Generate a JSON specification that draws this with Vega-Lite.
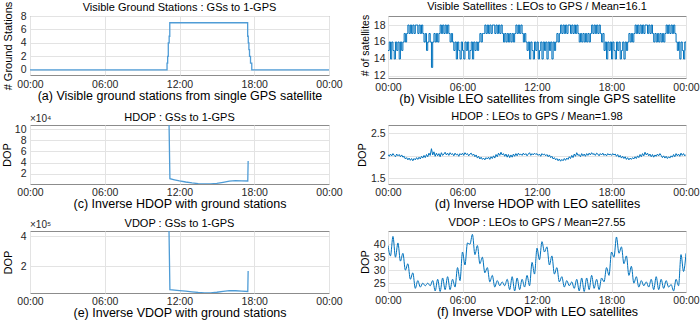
{
"$schema": "https://vega.github.io/schema/vega-lite/v6.json",
"padding": {"left": 0, "top": 0, "right": 0, "bottom": 0},
"autosize": {"type": "pad"},
"background": "white",
"config": {
  "font": "Liberation Sans",
  "view": {"stroke": "#8c8c8c", "strokeWidth": 1},
  "axis": {"grid": true, "gridColor": "#e3e3e3", "domain": false, "ticks": false, "labelOverlap": false, "labelFontSize": 10.5, "labelColor": "#262626", "titleFontWeight": "normal", "titleColor": "#000000", "labelFont": "Liberation Sans", "titleFont": "Liberation Sans"},
  "axisX": {"titleFontSize": 12.5, "titlePadding": 0, "labelPadding": 4, "labelFlush": false},
  "axisY": {"titleFontSize": 11, "labelPadding": 4},
  "title": {"fontSize": 11, "fontWeight": "normal", "offset": 3, "color": "#000000", "font": "Liberation Sans"}
},
"datasets": {
"a": [{"t":0,"v":0},{"t":10.95,"v":0},{"t":11.0,"v":1},{"t":11.05,"v":2},{"t":11.1,"v":4},{"t":11.17,"v":5},{"t":11.22,"v":7},{"t":17.42,"v":7},{"t":17.47,"v":5},{"t":17.52,"v":4},{"t":17.57,"v":3},{"t":17.62,"v":2},{"t":17.7,"v":1},{"t":17.8,"v":0},{"t":24,"v":0}],
"b": [
{"t":0,"v":15},{"t":0.1,"v":16},{"t":0.2,"v":14},{"t":0.3,"v":16},{"t":0.4,"v":15},{"t":0.5,"v":14},{"t":0.6,"v":16},{"t":0.7,"v":15},{"t":0.8,"v":16},{"t":0.9,"v":14},
{"t":1,"v":16},{"t":1.1,"v":15},{"t":1.2,"v":16},{"t":1.3,"v":17},{"t":1.4,"v":16},{"t":1.5,"v":17},{"t":1.6,"v":18},{"t":1.7,"v":17},{"t":1.8,"v":18},{"t":1.9,"v":17},
{"t":2,"v":18},{"t":2.1,"v":17},{"t":2.2,"v":18},{"t":2.3,"v":18},{"t":2.4,"v":17},{"t":2.5,"v":18},{"t":2.6,"v":17},{"t":2.7,"v":18},{"t":2.8,"v":17},{"t":2.9,"v":16},
{"t":3,"v":17},{"t":3.1,"v":15},{"t":3.2,"v":16},{"t":3.3,"v":17},{"t":3.4,"v":16},{"t":3.5,"v":13},{"t":3.6,"v":16},{"t":3.7,"v":17},{"t":3.8,"v":16},{"t":3.9,"v":17},
{"t":4,"v":16},{"t":4.1,"v":17},{"t":4.2,"v":18},{"t":4.3,"v":17},{"t":4.4,"v":18},{"t":4.5,"v":17},{"t":4.6,"v":18},{"t":4.7,"v":17},{"t":4.8,"v":18},{"t":4.9,"v":17},
{"t":5,"v":16},{"t":5.1,"v":17},{"t":5.2,"v":16},{"t":5.3,"v":15},{"t":5.4,"v":16},{"t":5.5,"v":14},{"t":5.6,"v":16},{"t":5.7,"v":15},{"t":5.8,"v":14},{"t":5.9,"v":16},
{"t":6,"v":15},{"t":6.1,"v":14},{"t":6.2,"v":16},{"t":6.3,"v":15},{"t":6.4,"v":16},{"t":6.5,"v":14},{"t":6.6,"v":15},{"t":6.7,"v":16},{"t":6.8,"v":14},{"t":6.9,"v":16},
{"t":7,"v":15},{"t":7.1,"v":16},{"t":7.2,"v":15},{"t":7.3,"v":16},{"t":7.4,"v":17},{"t":7.5,"v":16},{"t":7.6,"v":17},{"t":7.7,"v":17},{"t":7.8,"v":18},{"t":7.9,"v":17},
{"t":8,"v":18},{"t":8.1,"v":17},{"t":8.2,"v":18},{"t":8.3,"v":17},{"t":8.4,"v":18},{"t":8.5,"v":18},{"t":8.6,"v":17},{"t":8.7,"v":18},{"t":8.8,"v":17},{"t":8.9,"v":18},
{"t":9,"v":17},{"t":9.1,"v":18},{"t":9.2,"v":17},{"t":9.3,"v":16},{"t":9.4,"v":17},{"t":9.5,"v":16},{"t":9.6,"v":17},{"t":9.7,"v":16},{"t":9.8,"v":17},{"t":9.9,"v":16},
{"t":10,"v":17},{"t":10.1,"v":16},{"t":10.2,"v":17},{"t":10.3,"v":18},{"t":10.4,"v":17},{"t":10.5,"v":18},{"t":10.6,"v":17},{"t":10.7,"v":18},{"t":10.8,"v":17},{"t":10.9,"v":16},
{"t":11,"v":17},{"t":11.1,"v":16},{"t":11.2,"v":15},{"t":11.3,"v":16},{"t":11.4,"v":14},{"t":11.5,"v":16},{"t":11.6,"v":15},{"t":11.7,"v":14},{"t":11.8,"v":16},{"t":11.9,"v":15},
{"t":12,"v":16},{"t":12.1,"v":14},{"t":12.2,"v":15},{"t":12.3,"v":16},{"t":12.4,"v":14},{"t":12.5,"v":16},{"t":12.6,"v":15},{"t":12.7,"v":16},{"t":12.8,"v":14},{"t":12.9,"v":16},
{"t":13,"v":15},{"t":13.1,"v":16},{"t":13.2,"v":14},{"t":13.3,"v":16},{"t":13.4,"v":15},{"t":13.5,"v":16},{"t":13.6,"v":17},{"t":13.7,"v":16},{"t":13.8,"v":17},{"t":13.9,"v":18},
{"t":14,"v":17},{"t":14.1,"v":18},{"t":14.2,"v":17},{"t":14.3,"v":18},{"t":14.4,"v":17},{"t":14.5,"v":18},{"t":14.6,"v":18},{"t":14.7,"v":17},{"t":14.8,"v":18},{"t":14.9,"v":17},
{"t":15,"v":18},{"t":15.1,"v":17},{"t":15.2,"v":18},{"t":15.3,"v":17},{"t":15.4,"v":16},{"t":15.5,"v":17},{"t":15.6,"v":16},{"t":15.7,"v":17},{"t":15.8,"v":16},{"t":15.9,"v":17},
{"t":16,"v":16},{"t":16.1,"v":17},{"t":16.2,"v":16},{"t":16.3,"v":17},{"t":16.4,"v":18},{"t":16.5,"v":17},{"t":16.6,"v":18},{"t":16.7,"v":17},{"t":16.8,"v":18},{"t":16.9,"v":17},
{"t":17,"v":18},{"t":17.1,"v":17},{"t":17.2,"v":16},{"t":17.3,"v":17},{"t":17.4,"v":15},{"t":17.5,"v":16},{"t":17.6,"v":14},{"t":17.7,"v":16},{"t":17.8,"v":15},{"t":17.9,"v":16},
{"t":18,"v":14},{"t":18.1,"v":16},{"t":18.2,"v":15},{"t":18.3,"v":14},{"t":18.4,"v":16},{"t":18.5,"v":15},{"t":18.6,"v":16},{"t":18.7,"v":14},{"t":18.8,"v":15},{"t":18.9,"v":16},
{"t":19,"v":14},{"t":19.1,"v":16},{"t":19.2,"v":15},{"t":19.3,"v":16},{"t":19.4,"v":17},{"t":19.5,"v":16},{"t":19.6,"v":17},{"t":19.7,"v":16},{"t":19.8,"v":17},{"t":19.9,"v":18},
{"t":20,"v":17},{"t":20.1,"v":18},{"t":20.2,"v":17},{"t":20.3,"v":18},{"t":20.4,"v":17},{"t":20.5,"v":18},{"t":20.6,"v":17},{"t":20.7,"v":18},{"t":20.8,"v":18},{"t":20.9,"v":17},
{"t":21,"v":18},{"t":21.1,"v":17},{"t":21.2,"v":18},{"t":21.3,"v":17},{"t":21.4,"v":16},{"t":21.5,"v":17},{"t":21.6,"v":16},{"t":21.7,"v":17},{"t":21.8,"v":16},{"t":21.9,"v":17},
{"t":22,"v":16},{"t":22.1,"v":17},{"t":22.2,"v":16},{"t":22.3,"v":17},{"t":22.4,"v":18},{"t":22.5,"v":17},{"t":22.6,"v":18},{"t":22.7,"v":17},{"t":22.8,"v":18},{"t":22.9,"v":17},
{"t":23,"v":18},{"t":23.1,"v":17},{"t":23.2,"v":16},{"t":23.3,"v":15},{"t":23.4,"v":16},{"t":23.5,"v":14},{"t":23.6,"v":16},{"t":23.7,"v":15},{"t":23.8,"v":14},{"t":23.9,"v":16},
{"t":24,"v":15}],
"c": [{"t":11.15,"v":125000},{"t":11.23,"v":11000},{"t":11.6,"v":9000},{"t":12.0,"v":7000},{"t":12.5,"v":5000},{"t":13.0,"v":3300},{"t":13.5,"v":2100},{"t":14.0,"v":1500},{"t":14.5,"v":1600},{"t":15.0,"v":2600},{"t":15.5,"v":4500},{"t":16.0,"v":6500},{"t":16.5,"v":7400},{"t":17.0,"v":7200},{"t":17.48,"v":6800},{"t":17.51,"v":43000}],
"d": [
{"t":0,"v":2.03},{"t":0.1,"v":1.99},{"t":0.2,"v":2.04},{"t":0.3,"v":2.00},{"t":0.4,"v":2.05},{"t":0.5,"v":2.01},{"t":0.6,"v":1.98},{"t":0.7,"v":2.04},{"t":0.8,"v":2.00},{"t":0.9,"v":2.03},
{"t":1,"v":1.98},{"t":1.1,"v":2.02},{"t":1.2,"v":1.97},{"t":1.3,"v":1.99},{"t":1.4,"v":1.93},{"t":1.5,"v":1.96},{"t":1.6,"v":1.91},{"t":1.7,"v":1.95},{"t":1.8,"v":1.90},{"t":1.9,"v":1.94},
{"t":2,"v":1.89},{"t":2.1,"v":1.94},{"t":2.2,"v":1.91},{"t":2.3,"v":1.96},{"t":2.4,"v":1.92},{"t":2.5,"v":1.97},{"t":2.6,"v":1.93},{"t":2.7,"v":1.99},{"t":2.8,"v":1.95},{"t":2.9,"v":2.01},
{"t":3,"v":1.96},{"t":3.1,"v":2.03},{"t":3.2,"v":1.98},{"t":3.3,"v":2.06},{"t":3.4,"v":2.01},{"t":3.5,"v":2.16},{"t":3.6,"v":2.02},{"t":3.7,"v":2.09},{"t":3.8,"v":1.99},{"t":3.9,"v":2.06},
{"t":4,"v":2.00},{"t":4.1,"v":2.05},{"t":4.2,"v":1.98},{"t":4.3,"v":2.07},{"t":4.4,"v":2.01},{"t":4.5,"v":2.04},{"t":4.6,"v":2.08},{"t":4.7,"v":2.02},{"t":4.8,"v":2.06},{"t":4.9,"v":2.01},
{"t":5,"v":2.07},{"t":5.1,"v":2.03},{"t":5.2,"v":2.05},{"t":5.3,"v":2.00},{"t":5.4,"v":2.06},{"t":5.5,"v":2.02},{"t":5.6,"v":2.04},{"t":5.7,"v":1.99},{"t":5.8,"v":2.05},{"t":5.9,"v":2.02},
{"t":6,"v":2.06},{"t":6.1,"v":2.01},{"t":6.2,"v":2.07},{"t":6.3,"v":2.03},{"t":6.4,"v":2.05},{"t":6.5,"v":2.00},{"t":6.6,"v":2.04},{"t":6.7,"v":2.06},{"t":6.8,"v":2.01},{"t":6.9,"v":2.04},
{"t":7,"v":1.98},{"t":7.1,"v":2.02},{"t":7.2,"v":1.95},{"t":7.3,"v":1.99},{"t":7.4,"v":1.93},{"t":7.5,"v":1.97},{"t":7.6,"v":1.92},{"t":7.7,"v":1.95},{"t":7.8,"v":1.91},{"t":7.9,"v":1.96},
{"t":8,"v":1.93},{"t":8.1,"v":1.97},{"t":8.2,"v":1.92},{"t":8.3,"v":1.98},{"t":8.4,"v":1.94},{"t":8.5,"v":2.00},{"t":8.6,"v":1.95},{"t":8.7,"v":2.03},{"t":8.8,"v":1.98},{"t":8.9,"v":2.06},
{"t":9,"v":2.01},{"t":9.1,"v":2.08},{"t":9.2,"v":2.02},{"t":9.3,"v":2.05},{"t":9.4,"v":1.99},{"t":9.5,"v":2.04},{"t":9.6,"v":1.97},{"t":9.7,"v":2.03},{"t":9.8,"v":1.96},{"t":9.9,"v":2.02},
{"t":10,"v":1.97},{"t":10.1,"v":2.04},{"t":10.2,"v":1.99},{"t":10.3,"v":2.05},{"t":10.4,"v":2.00},{"t":10.5,"v":2.06},{"t":10.6,"v":2.02},{"t":10.7,"v":2.04},{"t":10.8,"v":2.01},{"t":10.9,"v":2.06},
{"t":11,"v":2.02},{"t":11.1,"v":2.05},{"t":11.2,"v":2.00},{"t":11.3,"v":2.04},{"t":11.4,"v":2.07},{"t":11.5,"v":2.01},{"t":11.6,"v":2.05},{"t":11.7,"v":2.02},{"t":11.8,"v":2.06},{"t":11.9,"v":2.03},
{"t":12,"v":2.05},{"t":12.1,"v":2.01},{"t":12.2,"v":2.04},{"t":12.3,"v":1.99},{"t":12.4,"v":2.05},{"t":12.5,"v":2.02},{"t":12.6,"v":2.04},{"t":12.7,"v":2.00},{"t":12.8,"v":2.03},{"t":12.9,"v":1.98},
{"t":13,"v":2.02},{"t":13.1,"v":1.96},{"t":13.2,"v":1.99},{"t":13.3,"v":1.93},{"t":13.4,"v":1.96},{"t":13.5,"v":1.91},{"t":13.6,"v":1.94},{"t":13.7,"v":1.89},{"t":13.8,"v":1.93},{"t":13.9,"v":1.88},
{"t":14,"v":1.92},{"t":14.1,"v":1.89},{"t":14.2,"v":1.94},{"t":14.3,"v":1.90},{"t":14.4,"v":1.95},{"t":14.5,"v":1.92},{"t":14.6,"v":1.98},{"t":14.7,"v":1.94},{"t":14.8,"v":2.01},{"t":14.9,"v":1.96},
{"t":15,"v":2.04},{"t":15.1,"v":1.99},{"t":15.2,"v":2.07},{"t":15.3,"v":2.01},{"t":15.4,"v":2.03},{"t":15.5,"v":1.98},{"t":15.6,"v":2.05},{"t":15.7,"v":2.00},{"t":15.8,"v":2.04},{"t":15.9,"v":1.99},
{"t":16,"v":2.05},{"t":16.1,"v":2.01},{"t":16.2,"v":2.06},{"t":16.3,"v":2.02},{"t":16.4,"v":2.07},{"t":16.5,"v":2.03},{"t":16.6,"v":2.05},{"t":16.7,"v":2.01},{"t":16.8,"v":2.06},{"t":16.9,"v":2.04},
{"t":17,"v":2.00},{"t":17.1,"v":2.05},{"t":17.2,"v":2.02},{"t":17.3,"v":2.06},{"t":17.4,"v":2.01},{"t":17.5,"v":2.04},{"t":17.6,"v":2.00},{"t":17.7,"v":2.05},{"t":17.8,"v":2.02},{"t":17.9,"v":2.04},
{"t":18,"v":2.01},{"t":18.1,"v":2.05},{"t":18.2,"v":2.02},{"t":18.3,"v":2.04},{"t":18.4,"v":1.99},{"t":18.5,"v":2.03},{"t":18.6,"v":1.97},{"t":18.7,"v":2.01},{"t":18.8,"v":1.95},{"t":18.9,"v":1.99},
{"t":19,"v":1.94},{"t":19.1,"v":1.98},{"t":19.2,"v":1.92},{"t":19.3,"v":1.96},{"t":19.4,"v":1.91},{"t":19.5,"v":1.95},{"t":19.6,"v":1.92},{"t":19.7,"v":1.96},{"t":19.8,"v":1.93},{"t":19.9,"v":1.98},
{"t":20,"v":1.94},{"t":20.1,"v":2.00},{"t":20.2,"v":1.96},{"t":20.3,"v":2.03},{"t":20.4,"v":1.98},{"t":20.5,"v":2.05},{"t":20.6,"v":2.00},{"t":20.7,"v":2.08},{"t":20.8,"v":2.02},{"t":20.9,"v":2.06},
{"t":21,"v":2.00},{"t":21.1,"v":2.04},{"t":21.2,"v":1.98},{"t":21.3,"v":2.03},{"t":21.4,"v":1.97},{"t":21.5,"v":2.02},{"t":21.6,"v":1.99},{"t":21.7,"v":2.04},{"t":21.8,"v":2.00},{"t":21.9,"v":2.05},
{"t":22,"v":2.01},{"t":22.1,"v":1.96},{"t":22.2,"v":2.00},{"t":22.3,"v":1.95},{"t":22.4,"v":1.99},{"t":22.5,"v":1.94},{"t":22.6,"v":1.98},{"t":22.7,"v":1.95},{"t":22.8,"v":2.00},{"t":22.9,"v":1.97},
{"t":23,"v":2.03},{"t":23.1,"v":1.98},{"t":23.2,"v":2.05},{"t":23.3,"v":2.00},{"t":23.4,"v":2.04},{"t":23.5,"v":1.99},{"t":23.6,"v":2.06},{"t":23.7,"v":2.01},{"t":23.8,"v":2.05},{"t":23.9,"v":2.00},
{"t":24,"v":2.03}],
"e": [{"t":11.15,"v":480000},{"t":11.23,"v":43000},{"t":12.0,"v":36000},{"t":12.5,"v":32000},{"t":13.0,"v":28000},{"t":13.5,"v":23500},{"t":14.0,"v":21000},{"t":14.5,"v":21500},{"t":15.0,"v":25000},{"t":15.5,"v":31000},{"t":16.0,"v":35500},{"t":16.5,"v":35000},{"t":17.0,"v":33000},{"t":17.48,"v":30000},{"t":17.51,"v":168000}],
"f": [
{"t":0,"v":39.5},{"t":0.2,"v":35.5},{"t":0.4,"v":43.0},{"t":0.6,"v":35.0},{"t":0.8,"v":40.5},{"t":1.0,"v":33.5},{"t":1.2,"v":36.5},{"t":1.4,"v":30.0},{"t":1.6,"v":32.5},{"t":1.8,"v":26.5},
{"t":2.0,"v":29.0},{"t":2.2,"v":23.0},{"t":2.4,"v":26.0},{"t":2.6,"v":23.5},{"t":2.8,"v":25.0},{"t":3.0,"v":24.0},{"t":3.2,"v":25.0},{"t":3.4,"v":24.0},{"t":3.6,"v":26.0},{"t":3.8,"v":22.0},
{"t":4.0,"v":26.5},{"t":4.2,"v":21.8},{"t":4.4,"v":27.0},{"t":4.6,"v":22.5},{"t":4.8,"v":27.5},{"t":5.0,"v":22.5},{"t":5.2,"v":26.5},{"t":5.4,"v":23.5},{"t":5.6,"v":31.0},{"t":5.8,"v":26.0},
{"t":6.0,"v":37.0},{"t":6.2,"v":32.0},{"t":6.4,"v":40.5},{"t":6.6,"v":40.0},{"t":6.8,"v":43.8},{"t":7.0,"v":36.0},{"t":7.2,"v":39.5},{"t":7.4,"v":32.5},{"t":7.6,"v":35.0},{"t":7.8,"v":29.0},
{"t":8.0,"v":31.0},{"t":8.2,"v":25.5},{"t":8.4,"v":28.0},{"t":8.6,"v":23.5},{"t":8.8,"v":26.0},{"t":9.0,"v":24.0},{"t":9.2,"v":25.5},{"t":9.4,"v":24.0},{"t":9.6,"v":26.5},{"t":9.8,"v":22.5},
{"t":10.0,"v":27.5},{"t":10.2,"v":22.0},{"t":10.4,"v":27.0},{"t":10.6,"v":22.5},{"t":10.8,"v":26.5},{"t":11.0,"v":23.5},{"t":11.2,"v":28.0},{"t":11.4,"v":24.0},{"t":11.6,"v":33.0},{"t":11.8,"v":28.5},
{"t":12.0,"v":38.5},{"t":12.2,"v":34.0},{"t":12.4,"v":41.0},{"t":12.6,"v":37.0},{"t":12.8,"v":39.0},{"t":13.0,"v":32.0},{"t":13.2,"v":35.5},{"t":13.4,"v":28.5},{"t":13.6,"v":31.0},{"t":13.8,"v":25.5},
{"t":14.0,"v":27.5},{"t":14.2,"v":23.5},{"t":14.4,"v":26.0},{"t":14.6,"v":24.0},{"t":14.8,"v":25.5},{"t":15.0,"v":23.0},{"t":15.2,"v":26.5},{"t":15.4,"v":22.0},{"t":15.6,"v":27.0},{"t":15.8,"v":21.8},
{"t":16.0,"v":27.0},{"t":16.2,"v":22.5},{"t":16.4,"v":28.0},{"t":16.6,"v":23.0},{"t":16.8,"v":26.5},{"t":17.0,"v":22.5},{"t":17.2,"v":27.0},{"t":17.4,"v":25.5},{"t":17.6,"v":31.0},{"t":17.8,"v":28.0},
{"t":18.0,"v":37.0},{"t":18.2,"v":35.0},{"t":18.4,"v":42.8},{"t":18.6,"v":36.5},{"t":18.8,"v":39.0},{"t":19.0,"v":32.5},{"t":19.2,"v":35.5},{"t":19.4,"v":28.0},{"t":19.6,"v":31.5},{"t":19.8,"v":25.0},
{"t":20.0,"v":27.5},{"t":20.2,"v":23.5},{"t":20.4,"v":26.0},{"t":20.6,"v":24.0},{"t":20.8,"v":25.5},{"t":21.0,"v":23.5},{"t":21.2,"v":26.5},{"t":21.4,"v":22.5},{"t":21.6,"v":27.5},{"t":21.8,"v":22.5},
{"t":22.0,"v":26.5},{"t":22.2,"v":23.0},{"t":22.4,"v":26.0},{"t":22.6,"v":23.5},{"t":22.8,"v":24.5},{"t":23.0,"v":22.0},{"t":23.2,"v":26.5},{"t":23.4,"v":24.0},{"t":23.6,"v":36.0},{"t":23.8,"v":29.5},
{"t":24.0,"v":36.5}]
},
"columns": 2,
"bounds": "flush",
"spacing": {"row": 47, "column": 59},
"concat": [
{
  "width": 299, "height": 59,
  "title": {"text": "Visible Ground Stations : GSs to 1-GPS", "offset": -12},
  "data": {"name": "a"},
  "mark": {"type": "line", "interpolate": "step-after", "strokeWidth": 1.3, "color": "#4f9cd6", "clip": true},
  "encoding": {
    "x": {"field": "t", "type": "quantitative", "scale": {"domain": [0, 24], "nice": false, "zero": false},
      "axis": {"values": [0, 6, 12, 18, 24], "labelExpr": "datum.value == 6 ? '06:00' : datum.value == 12 ? '12:00' : datum.value == 18 ? '18:00' : '00:00'", "title": "(a) Visible ground stations from single GPS satellite"}},
    "y": {"field": "v", "type": "quantitative", "scale": {"domain": [-0.75, 8], "nice": false, "zero": false},
      "axis": {"values": [0, 2, 4, 6, 8], "labelOverlap": false, "title": "# Ground Stations", "titlePadding": 7}}
  }
},
{
  "width": 298, "height": 62,
  "title": {"text": "Visible Satellites : LEOs to GPS / Mean=16.1", "offset": 2},
  "data": {"name": "b"},
  "mark": {"type": "line", "interpolate": "step-after", "strokeWidth": 1, "color": "#0072BD", "clip": true},
  "encoding": {
    "x": {"field": "t", "type": "quantitative", "scale": {"domain": [0, 24], "nice": false, "zero": false},
      "axis": {"values": [0, 6, 12, 18, 24], "labelExpr": "datum.value == 6 ? '06:00' : datum.value == 12 ? '12:00' : datum.value == 18 ? '18:00' : '00:00'", "title": "(b) Visible LEO satellites from single GPS satellite", "labelPadding": 4, "titlePadding": 0}},
    "y": {"field": "v", "type": "quantitative", "scale": {"domain": [11.76, 19.06], "nice": false, "zero": false},
      "axis": {"values": [12, 14, 16, 18], "labelOverlap": false, "title": "# of satellites", "titleFontSize": 10.5, "titleY": 29, "titlePadding": 3, "labelPadding": 3}}
  }
},
{
  "width": 299, "height": 59,
  "title": {"text": "HDOP : GSs to 1-GPS", "offset": -9},
  "layer": [
    {
      "data": {"name": "c"},
      "mark": {"type": "line", "strokeWidth": 1.3, "color": "#4f9cd6", "clip": true},
      "encoding": {
        "x": {"field": "t", "type": "quantitative", "scale": {"domain": [0, 24], "nice": false, "zero": false},
          "axis": {"values": [0, 6, 12, 18, 24], "labelOverlap": false, "labelExpr": "datum.value == 6 ? '06:00' : datum.value == 12 ? '12:00' : datum.value == 18 ? '18:00' : '00:00'", "title": "(c) Inverse HDOP with ground stations", "labelPadding": 3}},
        "y": {"field": "v", "type": "quantitative", "scale": {"domain": [1400, 107700], "nice": false, "zero": false},
          "axis": {"values": [20000, 40000, 60000, 80000, 100000], "labelOverlap": false, "labelExpr": "'' + (datum.value / 10000)", "title": "DOP", "titlePadding": 2}}
      }
    },
    {
      "data": {"values": [{}]},
      "mark": {"type": "text", "text": "×10⁴", "align": "left", "baseline": "bottom", "dy": -1, "fontSize": 10, "color": "#262626"},
      "encoding": {
        "x": {"datum": 0, "type": "quantitative", "scale": {"domain": [0, 24], "nice": false, "zero": false},
          "axis": {"values": [0, 6, 12, 18, 24], "labelOverlap": false, "labelExpr": "datum.value == 6 ? '06:00' : datum.value == 12 ? '12:00' : datum.value == 18 ? '18:00' : '00:00'", "title": "(c) Inverse HDOP with ground stations", "labelPadding": 3}},
        "y": {"datum": 107700, "type": "quantitative", "scale": {"domain": [1400, 107700], "nice": false, "zero": false},
          "axis": {"values": [20000, 40000, 60000, 80000, 100000], "labelOverlap": false, "labelExpr": "'' + (datum.value / 10000)", "title": "DOP", "titlePadding": 2}}
      }
    }
  ]
},
{
  "width": 298, "height": 59,
  "title": {"text": "HDOP : LEOs to GPS / Mean=1.98", "offset": 3},
  "data": {"name": "d"},
  "mark": {"type": "line", "strokeWidth": 1, "color": "#0072BD", "clip": true},
  "encoding": {
    "x": {"field": "t", "type": "quantitative", "scale": {"domain": [0, 24], "nice": false, "zero": false},
      "axis": {"values": [0, 6, 12, 18, 24], "labelExpr": "datum.value == 6 ? '06:00' : datum.value == 12 ? '12:00' : datum.value == 18 ? '18:00' : '00:00'", "title": "(d) Inverse HDOP with LEO satellites", "labelPadding": 3}},
    "y": {"field": "v", "type": "quantitative", "scale": {"domain": [1.37, 2.69], "nice": false, "zero": false},
      "axis": {"values": [1.5, 2, 2.5], "labelOverlap": false, "labelExpr": "'' + datum.value", "title": "DOP", "titlePadding": 3, "labelPadding": 3}}
  }
},
{
  "width": 299, "height": 62,
  "title": {"text": "VDOP : GSs to 1-GPS", "offset": -9},
  "layer": [
    {
      "data": {"name": "e"},
      "mark": {"type": "line", "strokeWidth": 1.3, "color": "#4f9cd6", "clip": true},
      "encoding": {
        "x": {"field": "t", "type": "quantitative", "scale": {"domain": [0, 24], "nice": false, "zero": false},
          "axis": {"values": [0, 6, 12, 18, 24], "labelOverlap": false, "labelExpr": "datum.value == 6 ? '06:00' : datum.value == 12 ? '12:00' : datum.value == 18 ? '18:00' : '00:00'", "title": "(e) Inverse VDOP with ground stations", "labelPadding": 3}},
        "y": {"field": "v", "type": "quantitative", "scale": {"domain": [20000, 435000], "nice": false, "zero": false},
          "axis": {"values": [200000, 400000], "labelOverlap": false, "labelExpr": "'' + (datum.value / 100000)", "title": "DOP", "titlePadding": 7}}
      }
    },
    {
      "data": {"values": [{}]},
      "mark": {"type": "text", "text": "×10⁵", "align": "left", "baseline": "bottom", "dy": -1, "fontSize": 10, "color": "#262626"},
      "encoding": {
        "x": {"datum": 0, "type": "quantitative", "scale": {"domain": [0, 24], "nice": false, "zero": false},
          "axis": {"values": [0, 6, 12, 18, 24], "labelOverlap": false, "labelExpr": "datum.value == 6 ? '06:00' : datum.value == 12 ? '12:00' : datum.value == 18 ? '18:00' : '00:00'", "title": "(e) Inverse VDOP with ground stations", "labelPadding": 3}},
        "y": {"datum": 435000, "type": "quantitative", "scale": {"domain": [20000, 435000], "nice": false, "zero": false},
          "axis": {"values": [200000, 400000], "labelOverlap": false, "labelExpr": "'' + (datum.value / 100000)", "title": "DOP", "titlePadding": 7}}
      }
    }
  ]
},
{
  "width": 298, "height": 61,
  "title": {"text": "VDOP : LEOs to GPS / Mean=27.55", "offset": 3},
  "data": {"name": "f"},
  "mark": {"type": "line", "interpolate": "monotone", "strokeWidth": 1, "color": "#0072BD", "clip": true},
  "encoding": {
    "x": {"field": "t", "type": "quantitative", "scale": {"domain": [0, 24], "nice": false, "zero": false},
      "axis": {"values": [0, 6, 12, 18, 24], "labelExpr": "datum.value == 6 ? '06:00' : datum.value == 12 ? '12:00' : datum.value == 18 ? '18:00' : '00:00'", "title": "(f) Inverse VDOP with LEO satellites", "labelPadding": 3}},
    "y": {"field": "v", "type": "quantitative", "scale": {"domain": [21.6, 45.1], "nice": false, "zero": false},
      "axis": {"values": [25, 30, 35, 40], "labelOverlap": false, "title": "DOP", "titlePadding": 3, "labelPadding": 3}}
  }
}
]
}
